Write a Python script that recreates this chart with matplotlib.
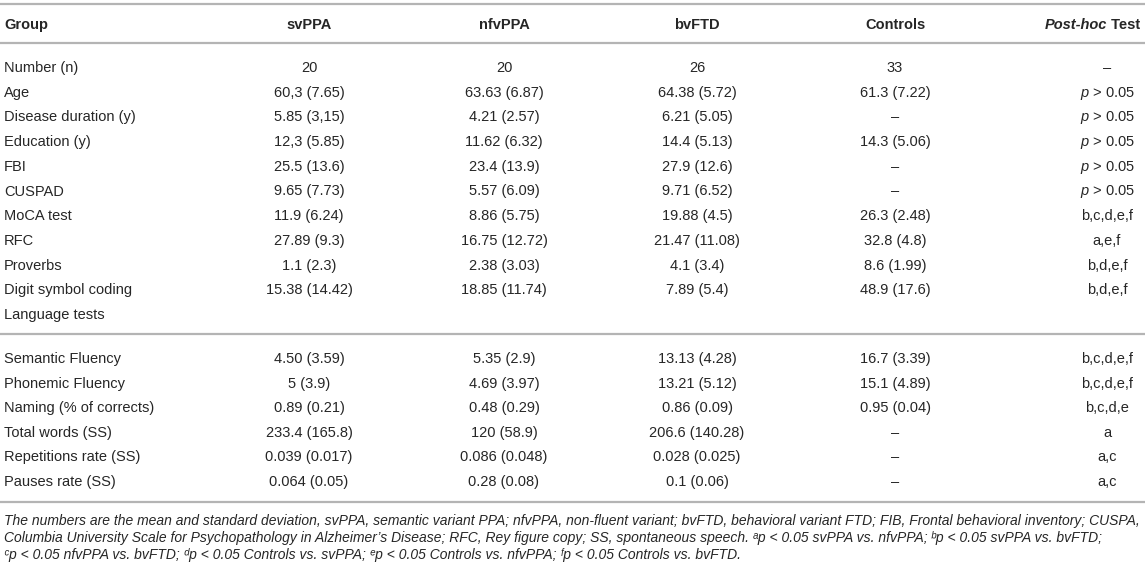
import matplotlib
matplotlib.use("Agg")
import matplotlib.pyplot as plt

plt.rcParams["font.family"] = ["Liberation Sans", "DejaVu Sans"]
plt.rcParams["mathtext.fontset"] = "custom"
plt.rcParams["mathtext.rm"] = "Liberation Sans"
plt.rcParams["mathtext.it"] = "Liberation Sans:italic"
plt.rcParams["mathtext.bf"] = "Liberation Sans:bold"

INK, RULE = "#262626", "#b4b4b4"
FS = 10.5

groups = ["svPPA", "nfvPPA", "bvFTD", "Controls"]

# general / cognitive block
labels_a = ["Number (n)", "Age", "Disease duration (y)", "Education (y)", "FBI",
            "CUSPAD", "MoCA test", "RFC", "Proverbs", "Digit symbol coding",
            "Language tests"]
svppa_a = ["20", "60,3 (7.65)", "5.85 (3,15)", "12,3 (5.85)", "25.5 (13.6)",
           "9.65 (7.73)", "11.9 (6.24)", "27.89 (9.3)", "1.1 (2.3)", "15.38 (14.42)", ""]
nfvppa_a = ["20", "63.63 (6.87)", "4.21 (2.57)", "11.62 (6.32)", "23.4 (13.9)",
            "5.57 (6.09)", "8.86 (5.75)", "16.75 (12.72)", "2.38 (3.03)", "18.85 (11.74)", ""]
bvftd_a = ["26", "64.38 (5.72)", "6.21 (5.05)", "14.4 (5.13)", "27.9 (12.6)",
           "9.71 (6.52)", "19.88 (4.5)", "21.47 (11.08)", "4.1 (3.4)", "7.89 (5.4)", ""]
controls_a = ["33", "61.3 (7.22)", "–", "14.3 (5.06)", "–", "–", "26.3 (2.48)",
              "32.8 (4.8)", "8.6 (1.99)", "48.9 (17.6)", ""]
posthoc_a = ["–", "$p$ > 0.05", "$p$ > 0.05", "$p$ > 0.05", "$p$ > 0.05", "$p$ > 0.05",
             "b,c,d,e,f", "a,e,f", "b,d,e,f", "b,d,e,f", ""]

# language block
labels_b = ["Semantic Fluency", "Phonemic Fluency", "Naming (% of corrects)",
            "Total words (SS)", "Repetitions rate (SS)", "Pauses rate (SS)"]
svppa_b = ["4.50 (3.59)", "5 (3.9)", "0.89 (0.21)", "233.4 (165.8)", "0.039 (0.017)", "0.064 (0.05)"]
nfvppa_b = ["5.35 (2.9)", "4.69 (3.97)", "0.48 (0.29)", "120 (58.9)", "0.086 (0.048)", "0.28 (0.08)"]
bvftd_b = ["13.13 (4.28)", "13.21 (5.12)", "0.86 (0.09)", "206.6 (140.28)", "0.028 (0.025)", "0.1 (0.06)"]
controls_b = ["16.7 (3.39)", "15.1 (4.89)", "0.95 (0.04)", "–", "–", "–"]
posthoc_b = ["b,c,d,e,f", "b,c,d,e,f", "b,c,d,e", "a", "a,c", "a,c"]

# superscript letters as unicode modifier glyphs (fall back to DejaVu)
footnote = [
    "The numbers are the mean and standard deviation, svPPA, semantic variant PPA; "
    "nfvPPA, non-fluent variant; bvFTD, behavioral variant FTD; FIB, Frontal behavioral "
    "inventory; CUSPA,",
    "Columbia University Scale for Psychopathology in Alzheimer’s Disease; RFC, Rey figure "
    "copy; SS, spontaneous speech. ᵃp < 0.05 svPPA vs. nfvPPA; ᵇp < 0.05 "
    "svPPA vs. bvFTD;",
    "ᶜp < 0.05 nfvPPA vs. bvFTD; ᵈp < 0.05 Controls vs. svPPA; "
    "ᵉp < 0.05 Controls vs. nfvPPA; ᶠp < 0.05 Controls vs. bvFTD.",
]

fig = plt.figure(figsize=(11.45, 5.70), dpi=100)
ax = fig.add_axes([0, 0, 1, 1])
ax.set_xlim(0, 1145)
ax.set_ylim(570, 0)
ax.axis("off")

x_label = 4
col_x = [309, 504, 697, 895, 1107]


def rule(y):
    ax.plot([0, 1145], [y, y], color=RULE, lw=1.6, solid_capstyle="butt")


def cell(x, y, s, ha="center", **kw):
    # y is the visual middle of the row; text sits on a baseline a bit lower
    ax.text(x, y + 5, s, ha=ha, va="baseline", fontsize=FS, color=INK, **kw)


rule(4)
# header
cell(x_label, 24, "Group", ha="left", fontweight="bold")
for g, x in zip(groups, col_x):
    cell(x, 24, g, fontweight="bold")
t_test = ax.text(1140, 29, " Test", ha="right", va="baseline", fontsize=FS,
                 color=INK, fontweight="bold")
ax.annotate("Post-hoc", xy=(0, 0), xycoords=t_test, ha="right", va="bottom",
            fontsize=FS, color=INK, fontweight="bold", style="italic")
rule(43)


def block(y0, step, labels, cols):
    for i, lab in enumerate(labels):
        y = y0 + i * step
        cell(x_label, y, lab, ha="left")
        for x, col in zip(col_x, cols):
            if col[i]:
                cell(x, y, col[i])


block(67, 24.7, labels_a, [svppa_a, nfvppa_a, bvftd_a, controls_a, posthoc_a])
rule(334)
block(358, 24.6, labels_b, [svppa_b, nfvppa_b, bvftd_b, controls_b, posthoc_b])
rule(502)

for k, line in enumerate(footnote):
    ax.text(x_label, 521 + k * 17 + 4, line, ha="left", va="baseline",
            fontsize=10.0, color=INK, style="italic")

fig.savefig("out.png", dpi=100)
